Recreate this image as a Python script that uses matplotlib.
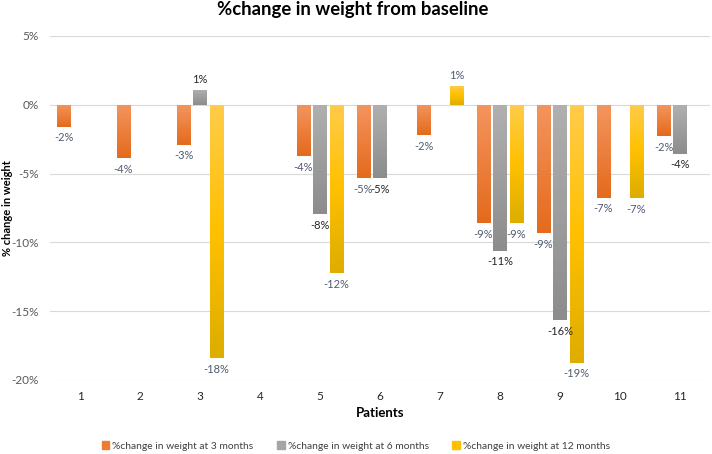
import numpy as np
import matplotlib.pyplot as plt
from matplotlib.colors import LinearSegmentedColormap
from matplotlib.patches import Patch
from matplotlib.ticker import FuncFormatter, MultipleLocator

plt.rcParams['font.family'] = ['Lato', 'DejaVu Sans']

patients = ['1', '2', '3', '4', '5', '6', '7', '8', '9', '10', '11']
m3 = [-1.6, -3.9, -2.9, np.nan, -3.75, -5.35, -2.2, -8.6, -9.35, -6.75, -2.3]
m6 = [np.nan, np.nan, 1.1, np.nan, -7.95, -5.35, np.nan, -10.6, -15.65, np.nan, -3.55]
m12 = [np.nan, np.nan, -18.4, np.nan, -12.25, np.nan, 1.4, -8.6, -18.75, -6.8, np.nan]
names = ['%change in weight at 3 months', '%change in weight at 6 months',
         '%change in weight at 12 months']

series = [
    (m3, -0.275, '#ED7D31', ['#F4955E', '#E46A1C'], '#4F5B70'),
    (m6, 0.0, '#A5A5A5', ['#B0B0B0', '#8C8C8C'], '#262626'),
    (m12, 0.275, '#FFC000', ['#FFCC4A', '#FFC000', '#DDAD00'], '#4F5B70'),
]

fig = plt.figure(figsize=(7.12, 4.54), dpi=100)
ax = fig.add_axes([50 / 712, 74 / 454, 660 / 712, 344 / 454])

x = np.arange(len(patients))
grad = np.linspace(0, 1, 256).reshape(-1, 1)
for vals, off, col, stops, lcol in series:
    bars = ax.bar(x + off, vals, 0.217, color=col, zorder=2)
    cmap = LinearSegmentedColormap.from_list('g', stops)
    for r, v in zip(bars, vals):
        if np.isnan(v):
            continue
        x0, w = r.get_x(), r.get_width()
        lo, hi = min(0, v), max(0, v)
        im = ax.imshow(grad, cmap=cmap, extent=(x0, x0 + w, lo, hi),
                       aspect='auto', origin='upper', zorder=3)
        im.set_clip_path(r)
        ax.annotate(f'{v:.0f}%', (x0 + w / 2, v),
                    xytext=(0, -4 if v < 0 else 3), textcoords='offset points',
                    ha='center', va='top' if v < 0 else 'bottom',
                    fontsize=8, color=lcol, zorder=4)

ax.set_xlim(-0.5, len(patients) - 0.5)
ax.set_ylim(-20, 5)
ax.set_xticks(x)
ax.set_xticklabels(patients, fontsize=8.5, color='#262626')
ax.yaxis.set_major_locator(MultipleLocator(5))
ax.yaxis.set_major_formatter(FuncFormatter(lambda v, p: f'{int(round(v))}%'))
ax.tick_params(axis='y', labelsize=8.5, labelcolor='#595959', length=0, pad=8)
ax.tick_params(axis='x', length=0, pad=8)
ax.grid(axis='y', color='#D9D9D9', lw=0.8, zorder=0)
ax.set_axisbelow(True)
for s in ax.spines.values():
    s.set_visible(False)

fig.text(0.496, 1 - 10 / 454, '%change in weight from baseline', ha='center',
         va='center', fontsize=13.3, fontweight='bold')
fig.text(8 / 712, 0.542, '% change in weight', rotation=90, ha='center',
         va='center', fontsize=8, fontweight='bold')
fig.text(380 / 712, 1 - 413 / 454, 'Patients', ha='center', va='center',
         fontsize=9.5, fontweight='bold')

handles = [Patch(color=s[2]) for s in series]
fig.legend(handles, names, loc='center', bbox_to_anchor=(0.5, 1 - 446 / 454),
           ncol=3, frameon=False, fontsize=7.4, handlelength=0.7,
           handleheight=0.7, handletextpad=0.3, columnspacing=2.3,
           labelcolor='#404040')

plt.savefig('out.png')
